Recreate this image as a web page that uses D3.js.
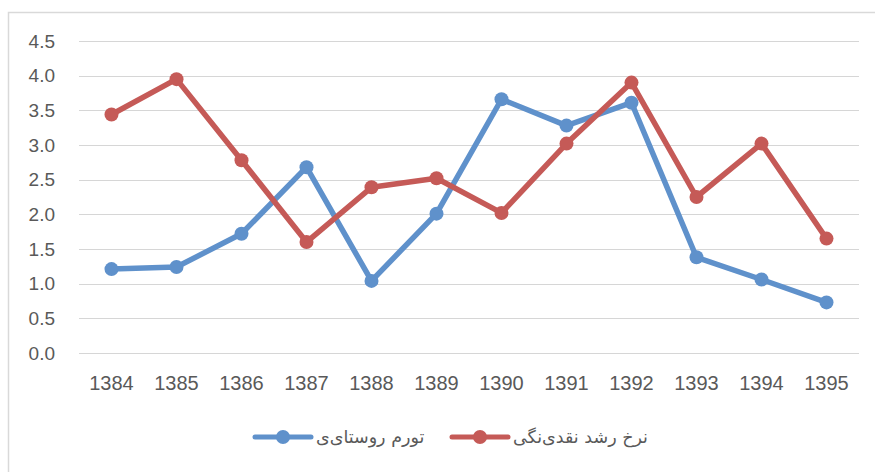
<!DOCTYPE html>
<html>
<head>
<meta charset="utf-8">
<script src="https://cdn.jsdelivr.net/npm/d3@7"></script>
<style>
  body { margin: 0; background: #fff; }
  svg text { font-family: "Liberation Sans", "DejaVu Sans", sans-serif; fill: #595959; }
</style>
</head>
<body>
<div id="chart"></div>
<script>
// values
const years = ["1384", "1385", "1386", "1387", "1388", "1389", "1390", "1391", "1392", "1393", "1394", "1395"];
const ruralInflation = [1.21, 1.24, 1.72, 2.68, 1.04, 2.01, 3.66, 3.28, 3.61, 1.38, 1.06, 0.73];
const liquidityGrowth = [3.44, 3.95, 2.78, 1.60, 2.39, 2.52, 2.02, 3.02, 3.90, 2.25, 3.02, 1.65];
const yTicks = [0, 0.5, 1, 1.5, 2, 2.5, 3, 3.5, 4, 4.5];
const seriesNames = ["تورم روستای‌ی", "نرخ رشد نقدی‌نگی"];

let width = 875, height = 472;
let margin = {left: 79, right: 16, top: 41, bottom: 119};

let svg = d3.select("#chart").append("svg")
    .attr("width", width).attr("height", height);

// chart frame, only top and left edges are inside the picture
svg.append("path")
    .attr("d", "M8.5," + height + "V12.5H" + width)
    .attr("fill", "none")
    .attr("stroke", "#d9d9d9")
    .attr("stroke-width", 1.5);

let x = d3.scalePoint()
    .domain(years)
    .range([margin.left, width - margin.right])
    .padding(0.5);

let y = d3.scaleLinear()
    .domain([0, 4.5])
    .range([height - margin.bottom, margin.top]);

// gridlines
svg.append("g")
    .selectAll("line")
    .data(yTicks)
    .join("line")
    .attr("x1", margin.left).attr("x2", width - margin.right)
    .attr("y1", d => Math.round(y(d)) + 0.5).attr("y2", d => Math.round(y(d)) + 0.5)
    .attr("stroke", "#d6d6d6").attr("stroke-width", 1);

// y labels
svg.append("g")
    .selectAll("text")
    .data(yTicks)
    .join("text")
    .attr("x", 55).attr("y", d => y(d))
    .attr("dy", "0.35em")
    .attr("text-anchor", "end")
    .style("font-size", "19px")
    .text(d => d.toFixed(1));

// x labels
svg.append("g")
    .selectAll("text")
    .data(years)
    .join("text")
    .attr("x", d => x(d)).attr("y", height - margin.bottom + 30)
    .attr("dy", "0.35em")
    .attr("text-anchor", "middle")
    .style("font-size", "20px")
    .text(d => d);

let series = [
    {name: seriesNames[0], values: ruralInflation, color: "#5f91cb"},
    {name: seriesNames[1], values: liquidityGrowth, color: "#c55a57"}
];

let line = d3.line()
    .x((d, i) => x(years[i]))
    .y(d => y(d));

series.forEach(s => {
    let g = svg.append("g");
    g.append("path")
        .datum(s.values)
        .attr("d", line)
        .attr("fill", "none")
        .attr("stroke", s.color)
        .attr("stroke-width", 5.5)
        .attr("stroke-linejoin", "round")
        .attr("stroke-linecap", "round");
    g.selectAll("circle")
        .data(s.values)
        .join("circle")
        .attr("cx", (d, i) => x(years[i]))
        .attr("cy", d => y(d))
        .attr("r", 7)
        .attr("fill", s.color);
});

// legend
let legendX = [255, 452];
series.forEach((s, i) => {
    let lg = svg.append("g").attr("transform", "translate(" + legendX[i] + ",437)");
    lg.append("line")
        .attr("x1", 0).attr("x2", 56)
        .attr("stroke", s.color).attr("stroke-width", 5)
        .attr("stroke-linecap", "round");
    lg.append("circle").attr("cx", 28).attr("r", 7).attr("fill", s.color);
    lg.append("text")
        .attr("x", 61).attr("y", 0)
        .attr("dy", "0.35em")
        .attr("text-anchor", "start")
        .style("font-family", "'DejaVu Sans', sans-serif")
        .style("font-size", "17.5px")
        .text(s.name);
});
</script>
</body>
</html>
